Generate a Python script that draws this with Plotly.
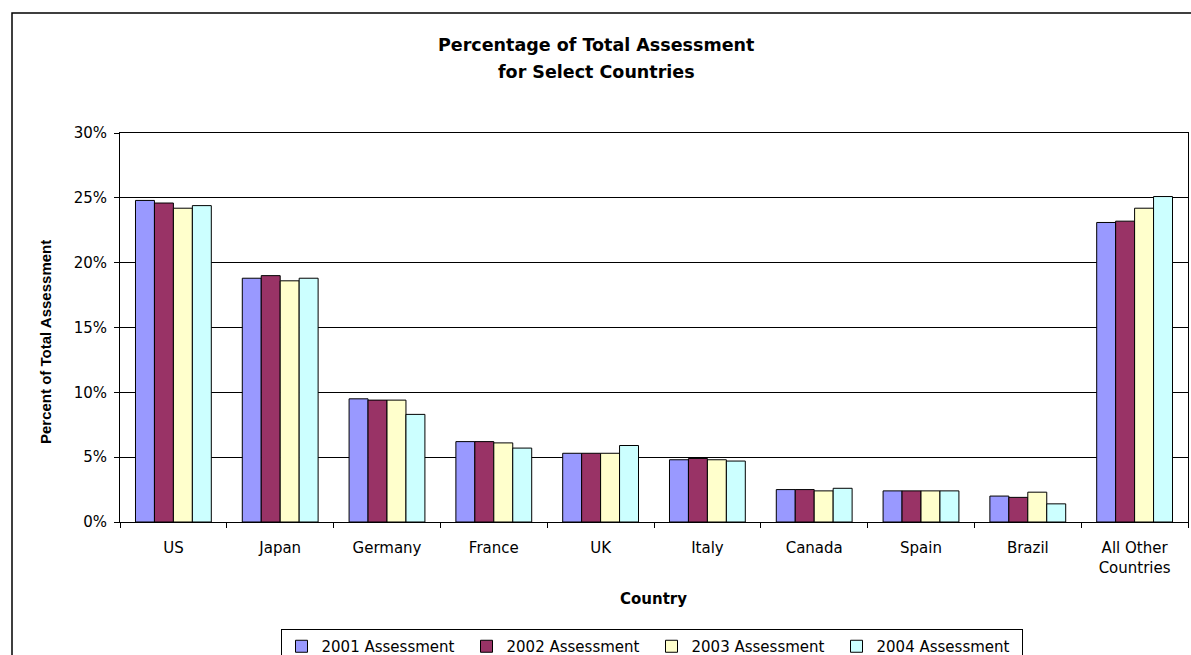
import plotly.graph_objects as go

countries = ["US", "Japan", "Germany", "France", "UK", "Italy", "Canada", "Spain", "Brazil", "All Other<br>Countries"]
series_names = ["2001 Assessment", "2002 Assessment", "2003 Assessment", "2004 Assessment"]
v2001 = [0.248, 0.188, 0.095, 0.062, 0.053, 0.048, 0.025, 0.024, 0.020, 0.231]
v2002 = [0.246, 0.190, 0.094, 0.062, 0.053, 0.049, 0.025, 0.024, 0.019, 0.232]
v2003 = [0.242, 0.186, 0.094, 0.061, 0.053, 0.048, 0.024, 0.024, 0.023, 0.242]
v2004 = [0.244, 0.188, 0.083, 0.057, 0.059, 0.047, 0.026, 0.024, 0.014, 0.251]
colors = ["#9999FF", "#993366", "#FFFFCC", "#CCFFFF"]

FONT = "DejaVu Sans, Liberation Sans, Arial, sans-serif"
FONT_B = "Liberation Sans, Arial, sans-serif"

fig = go.Figure()
for name, vals, col in zip(series_names, [v2001, v2002, v2003, v2004], colors):
    fig.add_trace(go.Bar(
        x=countries, y=vals, name=name,
        marker=dict(color=col, line=dict(color="#000000", width=1)),
    ))

W, H = 1191, 655
L, R, T, B = 120, 1188, 133, 522
pw, ph = R - L, B - T

def px_x(x):
    return (x - L) / pw

def px_y(y):
    return (B - y) / ph

fig.update_layout(
    width=W, height=H,
    margin=dict(l=L, r=W - R, t=T, b=H - B, autoexpand=False),
    paper_bgcolor="white", plot_bgcolor="white",
    font=dict(family=FONT, size=14, color="#000000"),
    barmode="group", bargap=0.29, bargroupgap=0,
    showlegend=True,
    legend=dict(
        orientation="h", x=px_x(651.5), xanchor="center", y=px_y(629), yanchor="top",
        bordercolor="#000000", borderwidth=1, bgcolor="white",
        font=dict(family=FONT, size=15), traceorder="normal",
        itemwidth=30, entrywidth=140, entrywidthmode="pixels", tracegroupgap=0,
    ),
    xaxis=dict(
        type="category", showline=True, linecolor="#000000", linewidth=1, mirror=True,
        ticks="outside", tickson="boundaries", ticklen=5, tickcolor="#000000",
        showgrid=False, tickfont=dict(family=FONT, size=15), ticklabelstandoff=12,
    ),
    yaxis=dict(
        range=[0, 0.30], dtick=0.05, tickformat=".0%",
        showline=True, linecolor="#000000", linewidth=1, mirror=True,
        ticks="outside", ticklen=5, tickcolor="#000000",
        showgrid=True, gridcolor="#000000", gridwidth=1,
        zeroline=False, tickfont=dict(family=FONT, size=15), ticklabelstandoff=4,
    ),
    annotations=[
        dict(text="<b>Percentage of Total Assessment</b>", xref="paper", yref="paper",
             x=px_x(596), y=px_y(45), xanchor="center", yanchor="middle",
             showarrow=False, font=dict(family=FONT, size=17.5)),
        dict(text="<b>for Select Countries</b>", xref="paper", yref="paper",
             x=px_x(596), y=px_y(72), xanchor="center", yanchor="middle",
             showarrow=False, font=dict(family=FONT, size=17.5)),
        dict(text="<b>Country</b>", xref="paper", yref="paper",
             x=px_x(653), y=px_y(599), xanchor="center", yanchor="middle",
             showarrow=False, font=dict(family=FONT, size=15)),
        dict(text="<b>Percent of Total Assessment</b>", xref="paper", yref="paper",
             x=px_x(45), y=px_y(342), xanchor="center", yanchor="middle",
             textangle=-90, showarrow=False, font=dict(family=FONT_B, size=15)),
    ],
    shapes=[
        dict(type="rect", xref="paper", yref="paper",
             x0=px_x(12), x1=px_x(1198), y0=px_y(700), y1=px_y(13),
             line=dict(color="#000000", width=1.5), fillcolor="rgba(0,0,0,0)", layer="below"),
    ],
)

fig.write_html("out.html")
